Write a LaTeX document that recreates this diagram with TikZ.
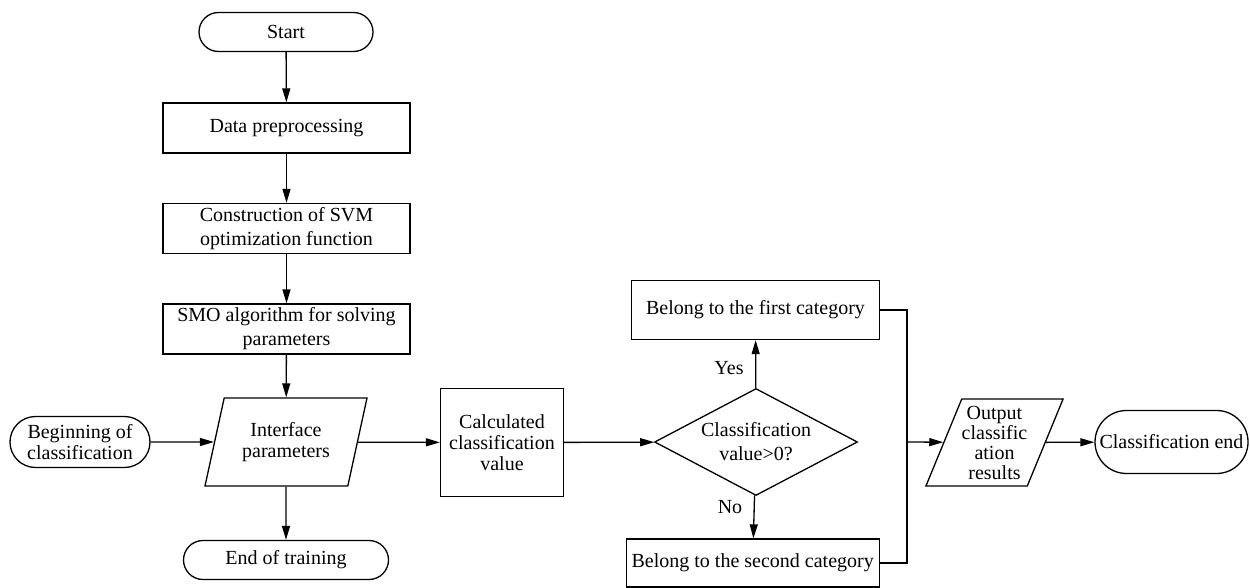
\documentclass[tikz,border=0pt]{standalone}
\usepackage{fontspec}
\setmainfont{Liberation Serif}
\usetikzlibrary{shapes.geometric,shapes.misc,arrows.meta}
\begin{document}
\begin{tikzpicture}[x=1pt,y=-1pt,
  every node/.style={font=\fontsize{20}{21}\selectfont, align=center, inner sep=0pt},
  wide/.style={font=\fontsize{20}{24}\selectfont},
  arr/.style={line width=1.3pt, -{Triangle[length=14pt,width=8pt]}},
  ln/.style={line width=1.3pt},
  term/.style={draw, rounded rectangle, line width=1.3pt},
  proc/.style={draw, rectangle, line width=1.3pt},
  io/.style={draw, trapezium, trapezium left angle=64, trapezium right angle=116, trapezium stretches body, line width=1.3pt},
  dec/.style={draw, diamond, aspect=1.9, line width=1.3pt}]
\useasboundingbox (0,0) rectangle (1250,588);
\node[term, minimum width=174pt, minimum height=39pt] (start) at (286,32) {Start};
\node[proc, minimum width=247pt, minimum height=50pt] (data) at (286.5,128) {Data preprocessing};
\node[proc, wide, minimum width=247pt, minimum height=50pt] (cons) at (286.5,228.5) {Construction of SVM\\optimization function};
\node[proc, wide, minimum width=247pt, minimum height=50pt] (smo) at (286.5,329) {SMO algorithm for solving\\parameters};
\node[io, minimum width=162pt, minimum height=88pt] (iface) at (286,442) {Interface\\parameters};
\node[term, minimum width=140pt, minimum height=51pt] (begin) at (80,442) {Beginning of\\classification};
\node[term, minimum width=205pt, minimum height=39pt] (endt) at (286,560) {End of training};
\node[proc, minimum width=123pt, minimum height=108pt] (calc) at (502,442.5) {Calculated\\classification\\value};
\node[dec, wide, minimum width=203pt, minimum height=107pt] (dia) at (756,442) {Classification\\value>0?};
\node[proc, minimum width=248pt, minimum height=59pt] (first) at (755.5,310) {Belong to the first category};
\node[proc, minimum width=253pt, minimum height=48pt] (second) at (752.7,563) {Belong to the second category};
\node[io, font=\fontsize{20}{20}\selectfont, minimum width=133pt, minimum height=87pt] (out) at (994.5,442.5) {Output\\classific\\ation\\results};
\node[term, minimum width=153pt, minimum height=63pt] (cend) at (1171.5,442) {Classification end};
\coordinate (j) at (907,442);
\node (yes) at (729,368) {Yes};
\node (no) at (730,507) {No};
\draw[arr] (start) -- (data);
\draw[arr] (data) -- (cons);
\draw[arr] (cons) -- (smo);
\draw[arr] (smo) -- (iface);
\draw[arr] (begin) -- (iface);
\draw[arr] (iface) -- (endt);
\draw[arr] (iface) -- (calc);
\draw[arr] (calc) -- (dia);
\draw[arr] (dia) -- (first);
\draw[arr] (dia) -- (second);
\draw[ln] (first.east) -| (j);
\draw[ln] (second.east) -| (j);
\draw[arr] (j) -- (out);
\draw[arr] (out) -- (cend);
\end{tikzpicture}
\end{document}
